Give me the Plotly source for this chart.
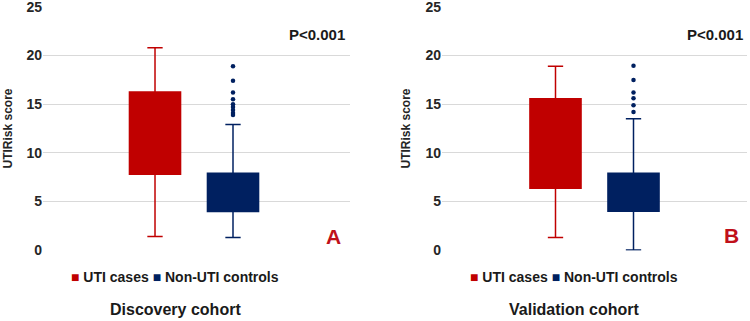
import plotly.graph_objects as go

groups = ["UTI cases", "Non-UTI controls"]
colors = ["#c00000", "#002060"]

# Discovery cohort stats: [UTI cases, Non-UTI controls]
disc_lower = [1.4, 1.3]
disc_q1 = [7.8, 3.95]
disc_median = [11.5, 5.5]
disc_q3 = [16.25, 7.9]
disc_upper = [20.8, 12.9]
disc_outliers = [18.9, 17.4, 16.2, 15.5, 15.0, 14.7, 14.4, 14.1, 13.9]

# Validation cohort stats
val_lower = [1.3, 0.0]
val_q1 = [6.35, 4.0]
val_median = [10.5, 5.5]
val_q3 = [15.55, 7.9]
val_upper = [18.9, 13.5]
val_outliers = [18.95, 17.5, 16.2, 15.6, 14.9, 14.2]

yticks = [0, 5, 10, 15, 20, 25]
titles = ["Discovery cohort", "Validation cohort"]
panel_letters = ["A", "B"]
pvalue = "P<0.001"

FONT = "Liberation Sans, Arial, sans-serif"
fig = go.Figure()

panels = [
    (disc_lower, disc_q1, disc_median, disc_q3, disc_upper, disc_outliers, "x", "y"),
    (val_lower, val_q1, val_median, val_q3, val_upper, val_outliers, "x2", "y2"),
]
for lo, q1, med, q3, up, outs, xa, ya in panels:
    for i, g in enumerate(groups):
        fig.add_trace(go.Box(
            x=[g], q1=[q1[i]], median=[med[i]], q3=[q3[i]],
            lowerfence=[lo[i]], upperfence=[up[i]],
            fillcolor=colors[i], line=dict(color=colors[i], width=1.5),
            whiskerwidth=0.3, boxpoints=False, showlegend=False,
            xaxis=xa, yaxis=ya, name=g,
        ))
    fig.add_trace(go.Scatter(
        x=[groups[1]] * len(outs), y=outs, mode="markers",
        marker=dict(color=colors[1], size=4.5), showlegend=False,
        xaxis=xa, yaxis=ya,
    ))

# y: 0 at pixel 250, 25 at pixel 7 (9.72 px per unit); range padded slightly so edge gridlines draw
yd = [1 - 250.5 / 321, 1 - 6.5 / 321]
xcommon = dict(type="category", categoryorder="array", categoryarray=groups,
               showticklabels=False, showgrid=False, zeroline=False, showline=False,
               automargin=False)
ycommon = dict(range=[-0.05, 25.05], tickvals=yticks, showgrid=True, gridcolor="#d9d9d9",
               gridwidth=1, zeroline=False, showline=False, ticks="", automargin=False,
               ticklabeloverflow="allow",
               tickfont=dict(family=FONT, size=14, color="#262626", weight="bold"))

fig.update_layout(
    width=750, height=321, margin=dict(l=0, r=0, t=0, b=0, autoexpand=False),
    paper_bgcolor="white", plot_bgcolor="white", boxgap=0.064, boxmode="overlay",
    xaxis=dict(domain=[43 / 750, 350 / 750], range=[-1.436, 2.5], anchor="y", **xcommon),
    yaxis=dict(domain=yd, anchor="x", **ycommon),
    xaxis2=dict(domain=[442 / 750, 747 / 750], range=[-1.455, 2.455], anchor="y2", **xcommon),
    yaxis2=dict(domain=yd, anchor="x2", **ycommon),
)

ann = []
for k, (xc, ytx, pr, lx, ly) in enumerate([(175, 7, 347, 333, 236), (574, 405, 745, 731, 235)]):
    common = dict(xref="paper", yref="paper", showarrow=False, yanchor="middle")
    ann.append(dict(x=ytx / 750, y=1 - 128.5 / 321, text="UTIRisk score", textangle=-90,
                    xanchor="center",
                    font=dict(family=FONT, size=12, color="#262626", weight="bold"), **common))
    ann.append(dict(x=pr / 750, y=1 - 34 / 321, text=pvalue, xanchor="right",
                    font=dict(family=FONT, size=15, color="#1a1a1a", weight="bold"), **common))
    ann.append(dict(x=lx / 750, y=1 - ly / 321, text=panel_letters[k], xanchor="center",
                    font=dict(family=FONT, size=21, color="#c0101a", weight="bold"), **common))
    legend_text = (f'<span style="color:{colors[0]}">■</span> {groups[0]} '
                   f'<span style="color:{colors[1]}">■</span> {groups[1]}')
    ann.append(dict(x=xc / 750, y=1 - 277 / 321, text=legend_text, xanchor="center",
                    font=dict(family=FONT, size=14, color="#1a1a1a", weight="bold"), **common))
    ann.append(dict(x=xc / 750, y=1 - 309 / 321, text=titles[k], xanchor="center",
                    font=dict(family=FONT, size=16, color="#1a1a1a", weight="bold"), **common))
fig.update_layout(annotations=ann)

page_css = ("document.body.style.margin='0';"
            "var d=document.querySelector('.plotly-graph-div');"
            "d.style.position='fixed';d.style.left='0';d.style.top='0';")
fig.write_html("out.html", config={"displayModeBar": False}, post_script=page_css)
